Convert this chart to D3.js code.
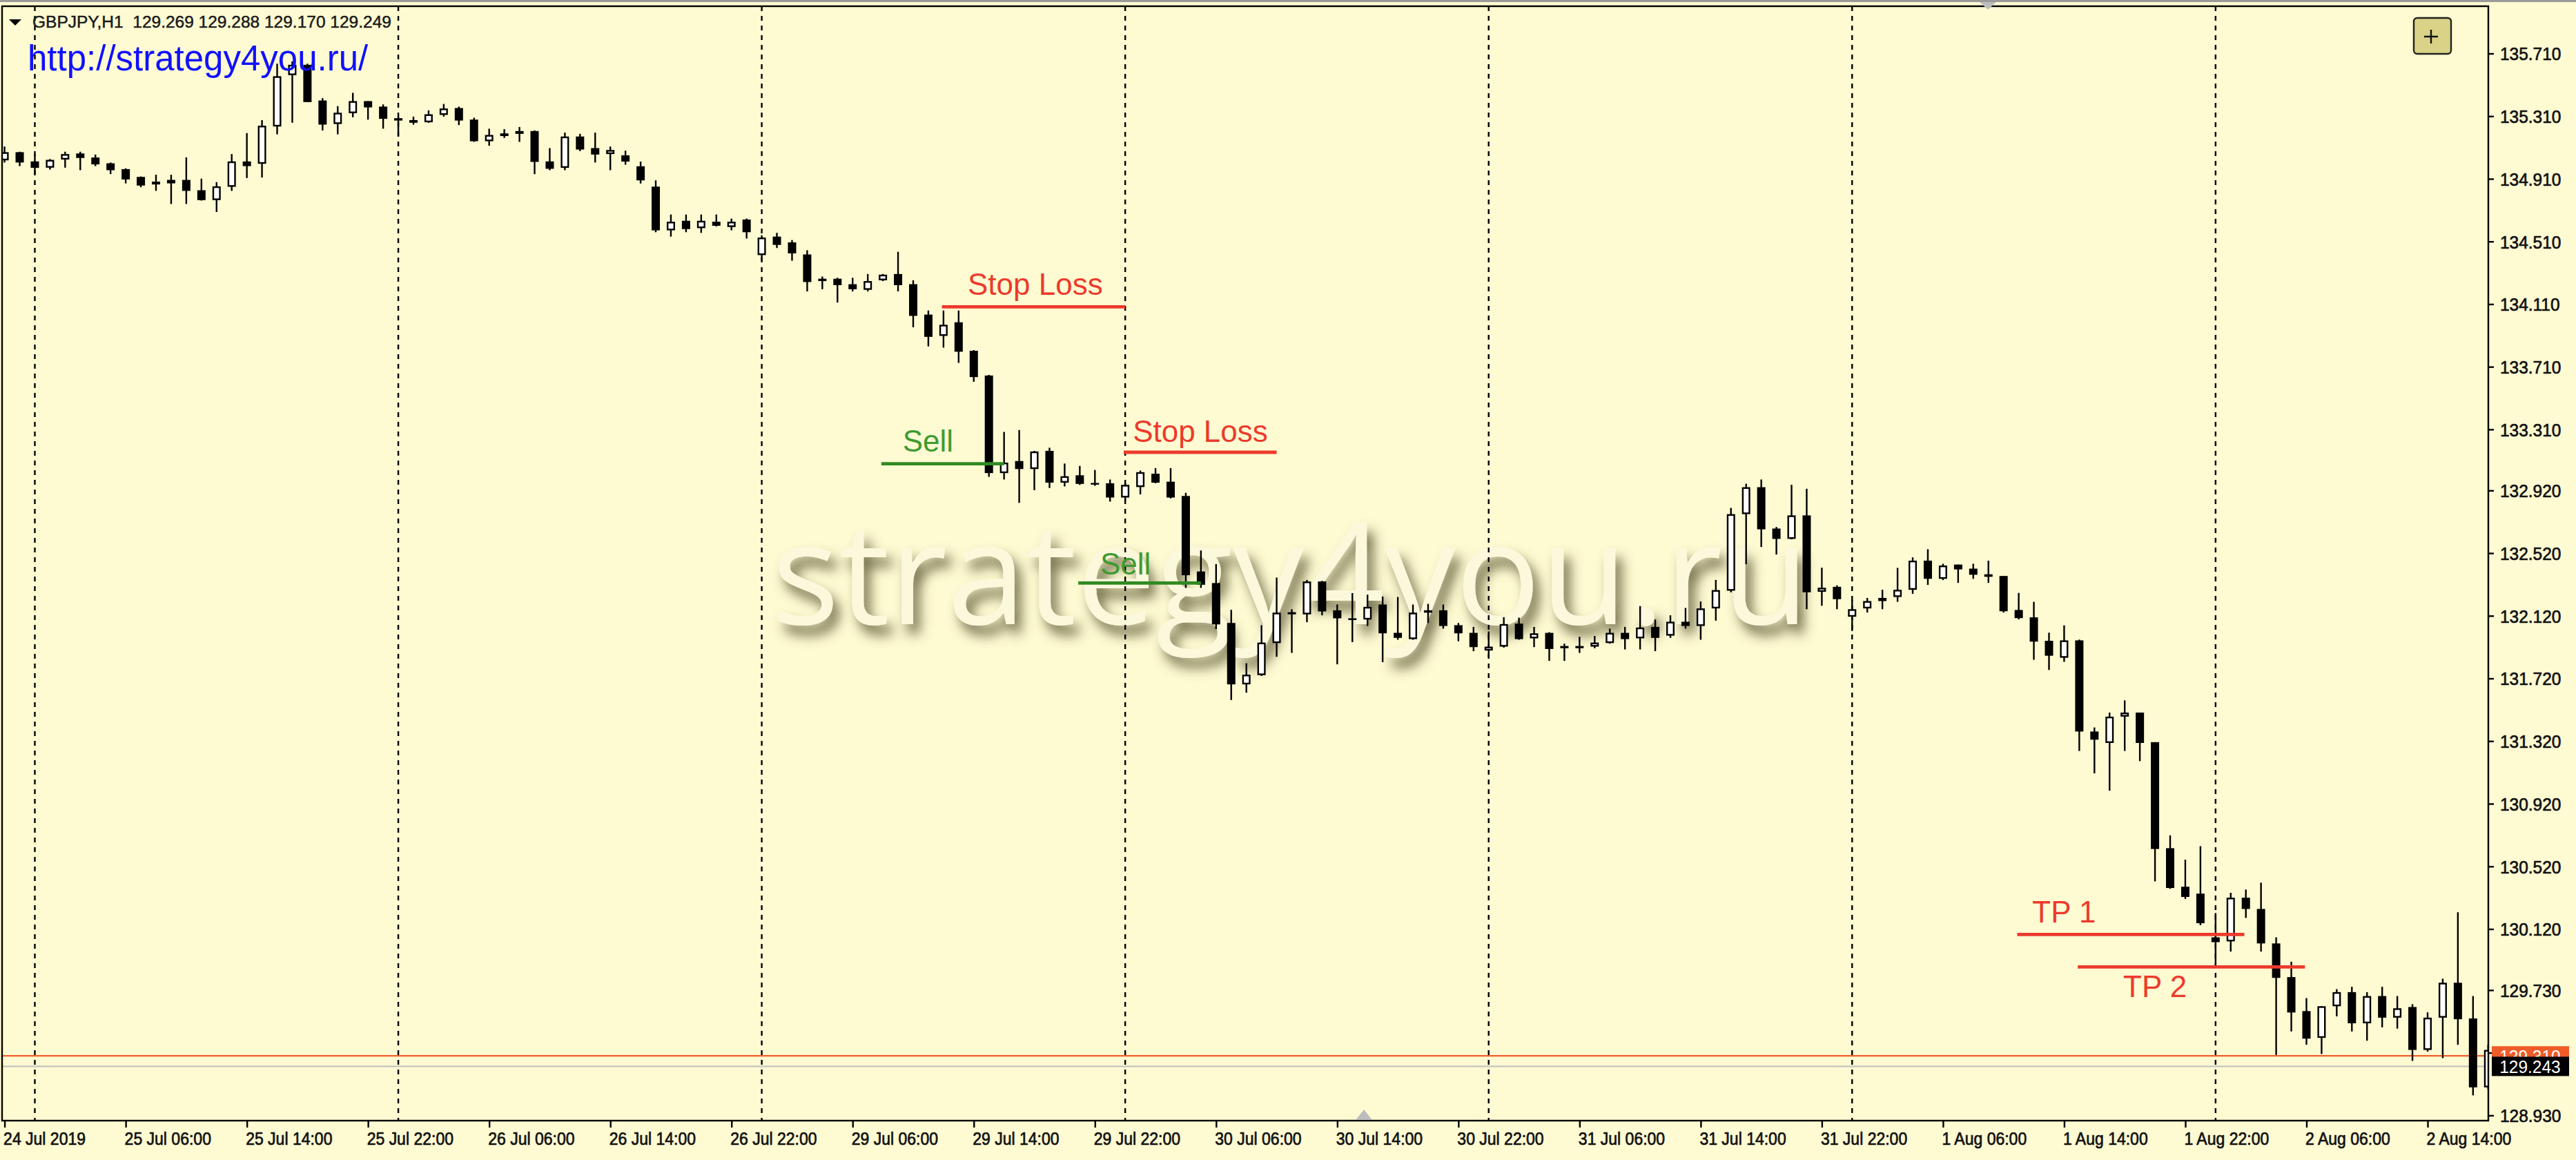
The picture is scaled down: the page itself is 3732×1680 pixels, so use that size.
<!DOCTYPE html>
<html><head><meta charset="utf-8">
<script src="https://cdn.jsdelivr.net/npm/d3@7"></script>
<style>html,body{margin:0;padding:0;background:#FEFAD2;overflow:hidden}</style>
</head><body>
<svg id="c" width="3732" height="1680" xmlns="http://www.w3.org/2000/svg"></svg>
<script>
// ---------------- DATA ----------------
const openP = [135.028,135.080,135.021,134.981,135.033,135.072,135.046,135.009,134.972,134.922,
134.892,134.903,134.903,134.837,134.774,134.859,135.021,135.006,135.244,135.572,
135.638,135.410,135.260,135.329,135.406,135.371,135.297,135.285,135.271,135.318,
135.362,135.288,135.150,135.200,135.215,135.215,135.021,134.980,135.180,135.106,
135.068,135.060,134.990,134.860,134.581,134.642,134.595,134.636,134.602,134.650,
134.423,134.541,134.504,134.427,134.272,134.272,134.237,134.201,134.262,134.302,
134.237,134.043,133.907,133.994,133.812,133.654,133.031,133.108,133.057,133.173,
132.970,133.017,132.968,132.966,132.875,132.942,133.027,132.976,132.885,132.403,
132.329,132.074,131.682,131.741,131.946,132.143,132.129,132.339,132.155,132.104,
132.096,132.192,132.011,131.971,132.155,132.155,132.060,132.011,131.898,131.923,
132.070,131.976,132.011,131.927,131.927,131.923,131.946,132.011,131.976,132.049,
131.993,132.082,132.055,132.167,132.280,132.769,132.941,132.677,132.611,132.761,
132.273,132.305,132.114,132.167,132.214,132.240,132.286,132.472,132.356,132.447,
132.421,132.385,132.374,132.157,132.110,131.960,131.852,131.963,131.381,131.308,
131.476,131.502,131.313,130.636,130.390,130.346,130.067,130.041,130.320,130.248,
130.028,129.813,129.596,129.425,129.627,129.717,129.518,129.692,129.554,129.622,
129.348,129.554,129.777,129.549,129.109];
const highP = [135.116,135.083,135.065,135.036,135.083,135.083,135.065,135.014,134.977,134.925,
134.936,134.936,135.047,134.911,134.889,135.068,135.202,135.285,135.645,135.660,
135.645,135.425,135.374,135.459,135.406,135.385,135.312,135.307,135.347,135.388,
135.371,135.300,135.230,135.227,135.241,135.219,135.106,135.205,135.197,135.205,
135.116,135.090,135.020,134.900,134.682,134.682,134.682,134.682,134.656,134.656,
134.549,134.565,134.519,134.454,134.286,134.278,134.278,134.302,134.302,134.444,
134.262,134.069,134.069,134.069,133.816,133.658,133.294,133.306,133.173,133.193,
133.092,133.077,133.051,132.990,132.970,133.047,133.063,133.063,132.905,132.537,
132.450,132.158,131.817,132.060,132.364,132.162,132.349,132.343,132.192,132.265,
132.255,132.243,132.240,132.192,132.196,132.192,132.074,132.049,132.020,132.111,
132.108,132.049,132.015,131.942,131.986,131.991,132.038,132.049,132.182,132.096,
132.123,132.170,132.211,132.349,132.809,132.963,132.990,132.687,132.956,132.931,
132.427,132.314,132.221,132.234,132.286,132.426,132.493,132.545,132.452,132.447,
132.452,132.472,132.374,132.266,132.209,132.012,132.059,131.968,131.407,131.502,
131.580,131.502,131.313,130.718,130.563,130.649,130.222,130.351,130.372,130.416,
130.067,129.911,129.679,129.627,129.736,129.751,129.717,129.751,129.692,129.640,
129.588,129.803,130.227,129.692,129.381];
const lowP = [135.014,134.991,134.940,134.969,134.981,134.965,134.991,134.940,134.881,134.856,
134.833,134.749,134.749,134.771,134.698,134.833,134.915,134.918,135.194,135.268,
135.400,135.219,135.194,135.303,135.288,135.230,135.183,135.256,135.268,135.307,
135.253,135.146,135.121,135.171,135.146,134.940,134.965,134.965,135.087,135.014,
134.965,135.000,134.880,134.569,134.541,134.569,134.565,134.606,134.581,134.529,
134.387,134.468,134.387,134.191,134.205,134.120,134.191,134.191,134.257,134.191,
133.962,133.840,133.832,133.735,133.614,133.007,132.990,132.841,132.922,132.936,
132.946,132.956,132.950,132.849,132.855,132.895,132.966,132.869,132.298,132.298,
132.035,131.582,131.629,131.736,131.858,131.883,132.079,132.123,131.810,131.952,
132.055,131.824,131.967,131.967,132.074,132.038,131.957,131.894,131.854,131.917,
131.967,131.920,131.832,131.832,131.883,131.913,131.942,131.905,131.905,131.894,
131.979,132.038,131.967,132.089,132.270,132.449,132.559,132.511,132.608,132.162,
132.184,132.162,132.023,132.141,132.162,132.209,132.260,132.317,132.348,132.330,
132.356,132.330,132.141,132.097,131.839,131.774,131.826,131.257,131.114,131.003,
131.257,131.192,130.424,130.377,130.312,130.144,129.886,129.976,130.191,129.976,
129.316,129.466,129.381,129.322,129.562,129.466,129.407,129.492,129.484,129.278,
129.337,129.296,129.381,129.058,129.097];
const closeP = [135.080,135.014,134.980,135.031,135.068,135.043,135.002,134.965,134.906,134.867,
134.874,134.881,134.833,134.774,134.862,135.021,134.991,135.249,135.565,135.638,
135.400,135.256,135.332,135.406,135.366,135.293,135.282,135.268,135.322,135.359,
135.282,135.150,135.190,135.183,135.197,135.018,134.974,135.180,135.097,135.065,
135.094,135.020,134.900,134.581,134.636,134.589,134.642,134.610,134.636,134.569,
134.535,134.488,134.434,134.251,134.257,134.231,134.205,134.257,134.298,134.231,
134.035,133.901,133.978,133.806,133.644,133.031,133.098,133.057,133.169,132.970,
133.011,132.962,132.964,132.875,132.956,133.037,132.970,132.875,132.379,132.318,
132.065,131.682,131.744,131.949,132.140,132.129,132.339,132.148,132.104,132.093,
132.177,132.008,131.979,132.140,132.140,132.055,132.008,131.920,131.923,132.067,
131.971,132.008,131.908,131.913,131.913,131.949,132.011,131.971,132.045,131.979,
132.082,132.055,132.167,132.284,132.769,132.941,132.672,132.611,132.761,132.270,
132.299,132.226,132.162,132.214,132.234,132.286,132.472,132.356,132.441,132.416,
132.382,132.369,132.149,132.105,131.955,131.865,131.963,131.381,131.329,131.476,
131.502,131.308,130.631,130.382,130.325,130.157,130.036,130.320,130.248,130.028,
129.808,129.587,129.420,129.627,129.717,129.518,129.692,129.554,129.614,129.348,
129.554,129.777,129.544,129.109,129.348];

const timeTickIdx = [0,8,16,24,32,40,48,56,64,72,80,88,96,104,112,120,128,136,144,152,160];
const timeTickLabels = ["24 Jul 2019","25 Jul 06:00","25 Jul 14:00","25 Jul 22:00","26 Jul 06:00","26 Jul 14:00","26 Jul 22:00","29 Jul 06:00","29 Jul 14:00","29 Jul 22:00","30 Jul 06:00","30 Jul 14:00","30 Jul 22:00","31 Jul 06:00","31 Jul 14:00","31 Jul 22:00","1 Aug 06:00","1 Aug 14:00","1 Aug 22:00","2 Aug 06:00","2 Aug 14:00"];
const daySepIdx = [2,26,50,74,98,122,146];
const priceTicks = [135.710,135.310,134.910,134.510,134.110,133.710,133.310,132.920,132.520,132.120,131.720,131.320,130.920,130.520,130.120,129.730,129.330,128.930];

const headerText = "GBPJPY,H1  129.269 129.288 129.170 129.249";
const urlText = "http://strategy4you.ru/";
const watermarkText = "strategy4you.ru";

const levelNames  = ["Stop Loss","Stop Loss","Sell","Sell","TP 1","TP 2"];
const levelKinds  = ["stop","stop","sell","sell","tp","tp"];
const levelPrice  = [134.093,133.164,133.091,132.329,130.085,129.878];
const levelFrom   = [61.9,73.9,57.9,70.9,132.9,136.9];
const levelTo     = [74.0,84.0,66.0,79.0,147.9,151.9];
const labelIdx    = [63.6,74.5,59.3,72.35,133.9,139.9];
const labelPrice  = [134.171,133.228,133.168,132.383,130.162,129.686];

const hLinePrice = 129.310;   // red horizontal line
const bidPrice = 129.243;     // bid line

// ---------------- LAYOUT ----------------
const W = 3732, H = 1680;
const L = 3, T = 9, R = 3605, B = 1623;
const BG = "#FEFAD2";
const svg = d3.select("#c");

const x = d3.scaleLinear().domain([0,160]).range([6.6, 3517]);
const y = d3.scaleLinear().domain([128.93,135.71]).range([1615.4, 77.5]);

svg.append("rect").attr("width",W).attr("height",H).attr("fill",BG);
svg.append("rect").attr("width",W).attr("height",3).attr("fill","#9a9a9a");

const defs = svg.append("defs");
defs.append("clipPath").attr("id","plot").append("rect")
  .attr("x",L).attr("y",T).attr("width",R-L).attr("height",B-T);
const f = defs.append("filter").attr("id","emb")
  .attr("x","-10%").attr("y","-40%").attr("width","130%").attr("height","180%");
f.append("feGaussianBlur").attr("in","SourceAlpha").attr("stdDeviation",9).attr("result","b");
f.append("feOffset").attr("in","b").attr("dx",9).attr("dy",14).attr("result","o");
f.append("feFlood").attr("flood-color","#57532f").attr("flood-opacity",0.85).attr("result","fc");
f.append("feComposite").attr("in","fc").attr("in2","o").attr("operator","in").attr("result","s");
const fm = f.append("feMerge");
fm.append("feMergeNode").attr("in","s");
fm.append("feMergeNode").attr("in","SourceGraphic");

const plot = svg.append("g").attr("clip-path","url(#plot)");

// watermark
plot.append("text").attr("x",1118).attr("y",904)
  .attr("font-family","'Open Sans', 'Noto Sans', sans-serif").attr("font-size",205)
  .attr("fill","#FCF8DC").attr("filter","url(#emb)").text(watermarkText);

// day separators
plot.selectAll("line.sep").data(daySepIdx).join("line").attr("class","sep")
  .attr("x1",d=>x(d)).attr("x2",d=>x(d)).attr("y1",T).attr("y2",B)
  .attr("stroke","#000").attr("stroke-width",2.4).attr("stroke-dasharray","7,7");

// price lines
plot.append("line").attr("x1",L).attr("x2",R).attr("y1",y(bidPrice)).attr("y2",y(bidPrice))
  .attr("stroke","#C4C4C4").attr("stroke-width",2.2);
plot.append("line").attr("x1",L).attr("x2",R).attr("y1",y(hLinePrice)).attr("y2",y(hLinePrice))
  .attr("stroke","#F0602A").attr("stroke-width",2.2);

// candles
const idx = d3.range(openP.length);
const bw = 12, sw = 2.4;
const cg = plot.append("g");
cg.selectAll("line.w").data(idx).join("line").attr("class","w")
  .attr("x1",i=>x(i)).attr("x2",i=>x(i))
  .attr("y1",i=>y(highP[i])).attr("y2",i=>y(lowP[i]))
  .attr("stroke","#000").attr("stroke-width",sw);
cg.selectAll("rect.b").data(idx).join("rect").attr("class","b")
  .each(function(i){
    const o=openP[i], c=closeP[i];
    const top=y(Math.max(o,c)), bot=y(Math.min(o,c));
    const h=Math.max(bot-top, sw);
    const s=d3.select(this);
    if(c>=o){
      s.attr("x",x(i)-bw/2+sw/2).attr("width",bw-sw)
       .attr("y",top+sw/2).attr("height",Math.max(h-sw,0.01))
       .attr("fill","#fff").attr("stroke","#000").attr("stroke-width",sw);
    } else {
      s.attr("x",x(i)-bw/2).attr("width",bw).attr("y",top).attr("height",h).attr("fill","#000");
    }
  });

// level annotations
const colLine = {stop:"#EC3A2C", sell:"#2F8A22", tp:"#EC3A2C"};
const colText = {stop:"#EC3A2C", sell:"#3E9A30", tp:"#EC3A2C"};
const lv = plot.append("g");
lv.selectAll("line").data(levelNames.map((n,i)=>i)).join("line")
  .attr("x1",i=>x(levelFrom[i])).attr("x2",i=>x(levelTo[i]))
  .attr("y1",i=>y(levelPrice[i])).attr("y2",i=>y(levelPrice[i]))
  .attr("stroke",i=>colLine[levelKinds[i]]).attr("stroke-width",4.8);
lv.selectAll("text").data(levelNames.map((n,i)=>i)).join("text")
  .attr("x",i=>x(labelIdx[i])).attr("y",i=>y(labelPrice[i]))
  .attr("font-family","'Liberation Sans', Arial, sans-serif").attr("font-size",44)
  .attr("fill",i=>colText[levelKinds[i]]).text(i=>levelNames[i]);

// frame
svg.append("rect").attr("x",L).attr("y",T).attr("width",R-L).attr("height",B-T)
  .attr("fill","none").attr("stroke","#000").attr("stroke-width",2.4);

// right axis
const ra = svg.append("g").attr("transform",`translate(${R},0)`)
  .call(d3.axisRight(y).tickValues(priceTicks).tickFormat(d3.format(".3f")).tickSize(8).tickPadding(9));
ra.select(".domain").remove();
ra.selectAll(".tick line").attr("stroke","#000").attr("stroke-width",2.4);
ra.selectAll(".tick text").attr("font-family","'Liberation Sans', Arial, sans-serif")
  .attr("font-size",26).attr("fill","#111").attr("stroke","#111").attr("stroke-width",0.7)
  .attr("dy","0.36em")
  .attr("transform","translate(17,0) scale(0.94,1)").attr("x",0);

// bottom axis
const ba = svg.append("g").attr("transform",`translate(0,${B})`)
  .call(d3.axisBottom(x).tickValues(timeTickIdx).tickFormat((d,i)=>timeTickLabels[i]).tickSize(10).tickPadding(0));
ba.select(".domain").remove();
ba.selectAll(".tick line").attr("stroke","#000").attr("stroke-width",2.4);
ba.selectAll(".tick text").attr("font-family","'Liberation Sans', Arial, sans-serif")
  .attr("font-size",25).attr("fill","#111").attr("stroke","#111").attr("stroke-width",0.7)
  .attr("text-anchor","start")
  .attr("y",0).attr("dy",0).attr("transform","translate(-2,35) scale(0.92,1)");

// price labels on the right
function priceLabel(p, fill, txt){
  const g = svg.append("g").attr("transform",`translate(3610,${y(p)})`);
  g.append("rect").attr("x",0).attr("y",-14).attr("width",112).attr("height",28).attr("fill",fill);
  g.append("text").attr("x",12).attr("y",0).attr("dy","0.36em")
    .attr("font-family","'Liberation Sans', Arial, sans-serif").attr("font-size",26)
    .attr("fill","#fff").attr("transform","scale(0.94,1)").text(txt);
}
priceLabel(hLinePrice, "#EE5C28", d3.format(".3f")(hLinePrice));
priceLabel(bidPrice, "#000", d3.format(".3f")(bidPrice));

// header
svg.append("path").attr("d","M13,28 L31,28 L22,37 Z").attr("fill","#000");
svg.append("text").attr("x",47).attr("y",40)
  .attr("font-family","'Liberation Sans', Arial, sans-serif").attr("font-size",24.5)
  .attr("fill","#1a1a1a").attr("stroke","#1a1a1a").attr("stroke-width",0.5)
  .attr("xml:space","preserve").style("white-space","pre").text(headerText);
svg.append("text").attr("x",40).attr("y",102)
  .attr("font-family","'Liberation Sans', Arial, sans-serif").attr("font-size",51)
  .attr("fill","#1010FF").text(urlText);

// "+" button
svg.append("rect").attr("x",3497).attr("y",26).attr("width",54).attr("height",52).attr("rx",5)
  .attr("fill","#D9D287").attr("stroke","#222").attr("stroke-width",2.4);
svg.append("path").attr("d","M3512,53 L3532,53 M3522,43 L3522,63").attr("stroke","#111").attr("stroke-width",2.4);

// scroll markers
svg.append("path").attr("d","M1964,1622 L1988,1622 L1976,1607 Z").attr("fill","#BDBDBD");
svg.append("path").attr("d","M2868,3 L2892,3 L2880,14 Z").attr("fill","#BDBDBD");
</script>
</body></html>
